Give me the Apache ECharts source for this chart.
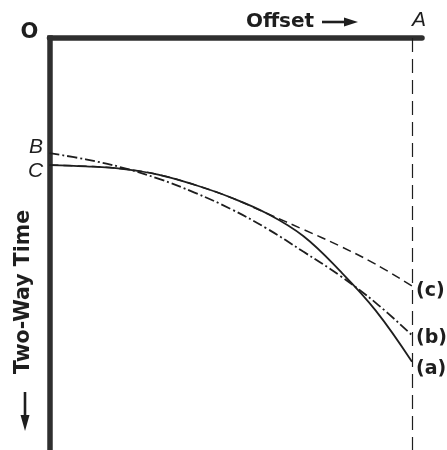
<!DOCTYPE html>
<html>
<head>
<meta charset="utf-8">
<script src="https://cdn.jsdelivr.net/npm/echarts@6/dist/echarts.min.js"></script>
<style>
  html, body { margin: 0; padding: 0; background: #ffffff; }
  #chart { width: 447px; height: 450px; }
</style>
</head>
<body>
<div id="chart"></div>
<script>
// Offset runs from the origin O to the far trace A (A = 100); two-way time grows downward.
const offsetA = [0, 10, 20, 30, 40, 50, 60, 70, 80, 90, 100];
const timeA   = [30.5, 30.8, 31.4, 32.8, 35.3, 38.4, 42.3, 47.8, 56.2, 66.0, 78.5];

const offsetB = [0, 10, 20, 30, 40, 50, 60, 70, 80, 90, 100];
const timeB   = [27.6, 29.1, 31.1, 33.8, 37.2, 41.2, 46.0, 51.6, 57.4, 64.1, 72.0];

const offsetC = [0, 10, 20, 30, 40, 50, 60, 70, 80, 90, 100];
const timeC   = [30.5, 30.8, 31.4, 32.8, 35.3, 38.4, 42.3, 46.2, 50.2, 54.7, 60.0];

const curveLabels = ['(a)', '(b)', '(c)'];
const farOffset = 100;

const ink = '#1e1e1e';
const axisInk = '#2f2f2f';
const italicFont = 'italic 21px "Liberation Sans"';

function pairs(xs, ys) { return xs.map((x, i) => [x, ys[i]]); }

function endLabel(text, dy) {
  return {
    show: true, formatter: text, distance: 4, offset: [0, dy],
    fontFamily: 'DejaVu Sans', fontWeight: 'bold', fontSize: 19, color: ink
  };
}

const chart = echarts.init(document.getElementById('chart'), null, { renderer: 'canvas' });

chart.setOption({
  animation: false,
  backgroundColor: '#ffffff',
  grid: { left: 49.5, right: 25, top: 38, bottom: 0, containLabel: false },
  xAxis: {
    type: 'value', position: 'top', min: 0, max: 102.76,
    axisLine: { show: true, onZero: false, lineStyle: { color: axisInk, width: 5.5 } },
    axisTick: { show: false }, axisLabel: { show: false }, splitLine: { show: false }
  },
  yAxis: {
    type: 'value', inverse: true, min: -0.5, max: 100,
    axisLine: { show: true, onZero: false, lineStyle: { color: axisInk, width: 5.5, cap: 'square' } },
    axisTick: { show: false }, axisLabel: { show: false }, splitLine: { show: false }
  },
  series: [
    {
      name: curveLabels[2], type: 'line', data: pairs(offsetC, timeC),
      smooth: 0.4, showSymbol: false, z: 2,
      lineStyle: { color: ink, width: 1.5, type: [9, 5] },
      endLabel: endLabel(curveLabels[2], 5),
      markLine: {
        silent: true, symbol: 'none', label: { show: false },
        lineStyle: { color: ink, width: 1.2, type: [14, 7] },
        data: [{ xAxis: farOffset }]
      }
    },
    {
      name: curveLabels[1], type: 'line', data: pairs(offsetB, timeB),
      smooth: 0.4, showSymbol: false, z: 3,
      lineStyle: { color: ink, width: 1.8, type: [10, 3, 2, 3] },
      endLabel: endLabel(curveLabels[1], 3)
    },
    {
      name: curveLabels[0], type: 'line', data: pairs(offsetA, timeA),
      smooth: 0.4, showSymbol: false, z: 4,
      lineStyle: { color: ink, width: 1.8 },
      endLabel: endLabel(curveLabels[0], 7)
    }
  ],
  graphic: [
    { type: 'text', x: 29.5, y: 33, style: { text: 'O', font: 'bold 21px "DejaVu Sans"', fill: ink, align: 'center', verticalAlign: 'middle' } },
    { type: 'text', x: 280, y: 22, style: { text: 'Offset', font: 'bold 20px "DejaVu Sans"', fill: ink, align: 'center', verticalAlign: 'middle' } },
    { type: 'line', shape: { x1: 322, y1: 22, x2: 348, y2: 22 }, style: { stroke: ink, lineWidth: 2.6 } },
    { type: 'polygon', shape: { points: [[344, 17.5], [358, 22], [344, 26.5]] }, style: { fill: ink } },
    { type: 'text', x: 419, y: 20, style: { text: 'A', font: italicFont, fill: ink, align: 'center', verticalAlign: 'middle' } },
    { type: 'text', x: 36, y: 147, style: { text: 'B', font: italicFont, fill: ink, align: 'center', verticalAlign: 'middle' } },
    { type: 'text', x: 35.5, y: 171, style: { text: 'C', font: italicFont, fill: ink, align: 'center', verticalAlign: 'middle' } },
    { type: 'text', x: 24, y: 292, rotation: Math.PI / 2,
      style: { text: 'Two-Way Time', font: 'bold 20.5px "DejaVu Sans"', fill: ink, align: 'center', verticalAlign: 'middle' } },
    { type: 'line', shape: { x1: 25, y1: 392, x2: 25, y2: 418 }, style: { stroke: ink, lineWidth: 2.6 } },
    { type: 'polygon', shape: { points: [[20.5, 415], [25, 431], [29.5, 415]] }, style: { fill: ink } }
  ]
});
</script>
</body>
</html>
